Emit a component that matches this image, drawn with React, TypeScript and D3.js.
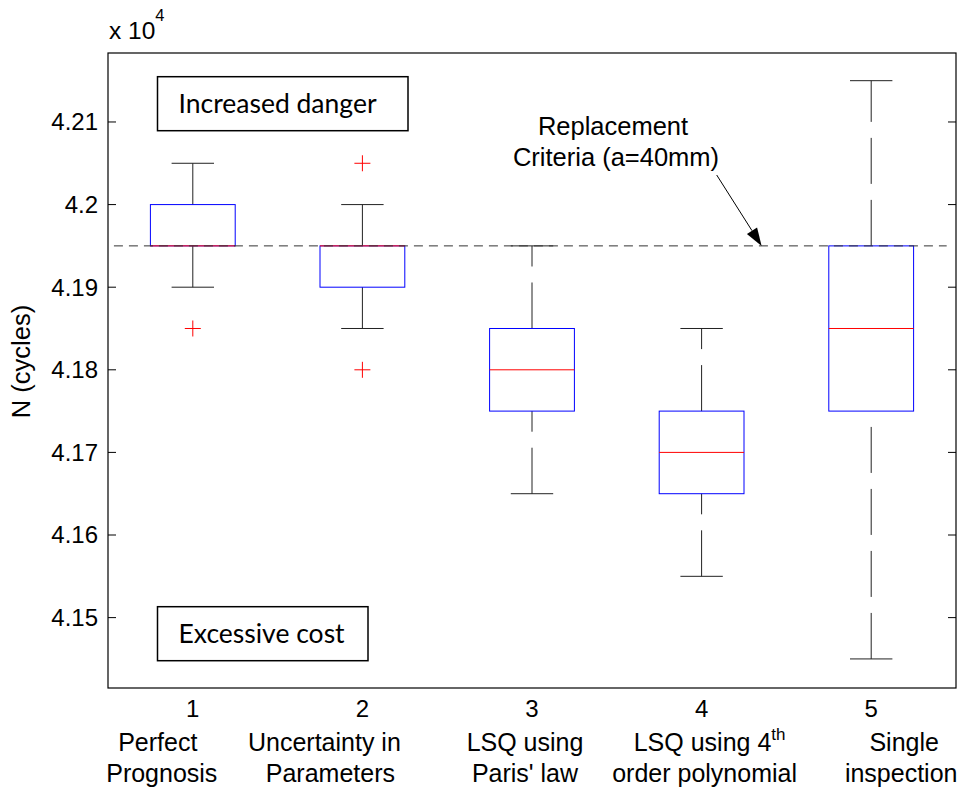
import { useRef, useEffect } from "react";
import * as d3 from "d3";

// box statistics, in units of 10^4 cycles
const categories = ["1", "2", "3", "4", "5"];
const whiskerLow = [4.19, 4.185, 4.165, 4.155, 4.145];
const q1 = [4.195, 4.19, 4.175, 4.165, 4.175];
const median = [4.195, 4.195, 4.18, 4.17, 4.185];
const q3 = [4.2, 4.195, 4.185, 4.175, 4.195];
const whiskerHigh = [4.205, 4.2, 4.195, 4.185, 4.215];
const outliers = [[4.185], [4.205, 4.18], [], [], []];
const yTicks = [4.15, 4.16, 4.17, 4.18, 4.19, 4.2, 4.21];
const criterion = 4.195;

const methodLines = [
  ["Perfect", "Prognosis"],
  ["Uncertainty in", "Parameters"],
  ["LSQ using", "Paris' law"],
  ["LSQ using 4", "order polynomial"],
  ["Single", "inspection"],
];
// horizontal shift of each label line from its tick (px)
const methodShift = [
  [-35, -31],
  [-38, -32],
  [-7, -7],
  [8, 3],
  [33, 30],
];

const W = 959;
const H = 791;
const FONT = "Arial, 'Liberation Sans', Helvetica, sans-serif";
const BOXFONT = "Lato, 'Open Sans', sans-serif";

export default function App() {
  const svgRef = useRef<SVGSVGElement | null>(null);

  useEffect(() => {
    const svg = d3.select(svgRef.current);
    svg.selectAll("*").remove();

    const left = 108, right = 956, top = 53, bottom = 688;
    const x = d3.scaleLinear().domain([0.5, 5.5]).range([left, right]);
    const y = d3.scaleLinear().domain([4.14148, 4.21835]).range([bottom, top]);
    const boxHalf = 0.25;
    const capHalf = 0.125;

    const g = svg.append("g");

    // axes frame
    g.append("rect")
      .attr("x", left).attr("y", top)
      .attr("width", right - left).attr("height", bottom - top)
      .attr("fill", "white").attr("stroke", "black").attr("stroke-width", 1.2);

    // y ticks both sides
    yTicks.forEach((t) => {
      const yy = y(t);
      g.append("line").attr("x1", left).attr("x2", left + 8).attr("y1", yy).attr("y2", yy).attr("stroke", "black");
      g.append("line").attr("x1", right - 8).attr("x2", right).attr("y1", yy).attr("y2", yy).attr("stroke", "black");
      g.append("text")
        .attr("x", left - 10).attr("y", yy).attr("dy", "0.35em")
        .attr("text-anchor", "end")
        .attr("font-family", FONT).attr("font-size", 24)
        .text(d3.format(".3~f")(t));
    });

    // exponent
    const ex = g.append("text").attr("x", 109).attr("y", 39).attr("font-family", FONT).attr("font-size", 24.5);
    ex.append("tspan").text("x 10");
    ex.append("tspan").attr("font-size", 16.5).attr("dy", -18).text("4");

    // y label
    g.append("text")
      .attr("transform", `translate(30,${(top + bottom) / 2 - 9}) rotate(-90)`)
      .attr("text-anchor", "middle")
      .attr("font-family", FONT).attr("font-size", 25.5)
      .text("N (cycles)");

    // boxes
    categories.forEach((c, i) => {
      const cx = x(i + 1);
      const wl = "46 16";
      // whiskers (drawn upward)
      g.append("line").attr("x1", cx).attr("x2", cx).attr("y1", y(whiskerLow[i])).attr("y2", y(q1[i]))
        .attr("stroke", "#222").attr("stroke-dasharray", wl);
      g.append("line").attr("x1", cx).attr("x2", cx).attr("y1", y(q3[i])).attr("y2", y(whiskerHigh[i]))
        .attr("stroke", "#222").attr("stroke-dasharray", wl);
      // caps
      [whiskerLow[i], whiskerHigh[i]].forEach((v) => {
        g.append("line").attr("x1", x(i + 1 - capHalf)).attr("x2", x(i + 1 + capHalf))
          .attr("y1", y(v)).attr("y2", y(v)).attr("stroke", "#222");
      });
      // box
      g.append("rect")
        .attr("x", x(i + 1 - boxHalf)).attr("y", y(q3[i]))
        .attr("width", x(i + 1 + boxHalf) - x(i + 1 - boxHalf))
        .attr("height", y(q1[i]) - y(q3[i]))
        .attr("fill", "none").attr("stroke", "#0000ff");
      // median
      g.append("line").attr("x1", x(i + 1 - boxHalf)).attr("x2", x(i + 1 + boxHalf))
        .attr("y1", y(median[i])).attr("y2", y(median[i])).attr("stroke", "#ff0000");
      // outliers
      outliers[i].forEach((v) => {
        const oy = y(v);
        g.append("path")
          .attr("d", `M${cx - 8},${oy}H${cx + 8}M${cx},${oy - 8}V${oy + 8}`)
          .attr("stroke", "#ff0000").attr("fill", "none");
      });
      // x tick label
      g.append("text").attr("x", cx).attr("y", bottom + 29)
        .attr("text-anchor", "middle").attr("font-family", FONT).attr("font-size", 24).text(c);
      // method labels
      methodLines[i].forEach((line, k) => {
        const t = g.append("text")
          .attr("x", cx + methodShift[i][k]).attr("y", bottom + 63 + k * 31)
          .attr("text-anchor", "middle").attr("font-family", FONT).attr("font-size", 25);
        t.append("tspan").text(line);
        if (i === 3 && k === 0) {
          t.append("tspan").attr("font-size", 17).attr("dy", -11).text("th");
        }
      });
    });

    // replacement criterion line
    g.append("line")
      .attr("x1", x(0.535)).attr("x2", x(5.445))
      .attr("y1", y(criterion)).attr("y2", y(criterion))
      .attr("stroke", "#333").attr("stroke-dasharray", "9 6");

    // annotation text and arrow
    const ann = g.append("text").attr("font-family", FONT).attr("font-size", 25.5).attr("text-anchor", "middle");
    ann.append("tspan").attr("x", 613).attr("y", 135).text("Replacement");
    ann.append("tspan").attr("x", 616).attr("y", 166).text("Criteria (a=40mm)");

    const tipX = x(4.354), tipY = y(criterion);
    const sx = 716.7, sy = 175;
    const ang = Math.atan2(tipY - sy, tipX - sx);
    const len = 18, hw = 6;
    const bx = tipX - len * Math.cos(ang), by = tipY - len * Math.sin(ang);
    g.append("line").attr("x1", sx).attr("y1", sy).attr("x2", bx).attr("y2", by).attr("stroke", "black");
    g.append("path")
      .attr("d", `M${tipX},${tipY}L${bx + hw * Math.sin(ang)},${by - hw * Math.cos(ang)}L${bx - hw * Math.sin(ang)},${by + hw * Math.cos(ang)}Z`)
      .attr("fill", "black");

    // labelled region boxes
    const regions = [
      { label: "Increased danger", x0: 157.5, y0: 76.7, x1: 408, y1: 130.7 },
      { label: "Excessive cost", x0: 157.5, y0: 606.7, x1: 368, y1: 660.7 },
    ];
    regions.forEach((r) => {
      g.append("rect").attr("x", r.x0).attr("y", r.y0).attr("width", r.x1 - r.x0).attr("height", r.y1 - r.y0)
        .attr("fill", "white").attr("stroke", "black").attr("stroke-width", 1.5);
      g.append("text").attr("x", r.x0 + 21).attr("y", (r.y0 + r.y1) / 2 + 9)
        .attr("font-family", BOXFONT).attr("font-size", 26.5).text(r.label);
    });
  }, []);

  return (
    <svg
      ref={svgRef}
      width={W}
      height={H}
      style={{ position: "absolute", left: 0, top: 0, background: "white" }}
    />
  );
}
